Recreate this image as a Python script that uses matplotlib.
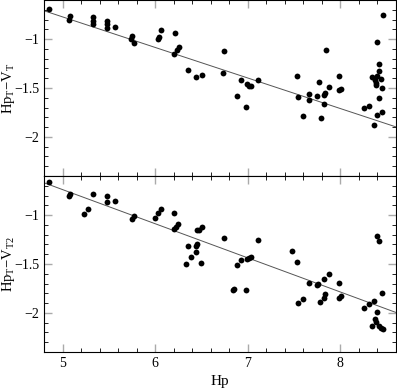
import matplotlib
matplotlib.use("Agg")
import matplotlib.pyplot as plt
import numpy as np
from matplotlib.ticker import MultipleLocator, FixedLocator

plt.rcParams['font.family'] = ['Liberation Serif', 'DejaVu Serif']
plt.rcParams['mathtext.fontset'] = 'custom'
plt.rcParams['mathtext.rm'] = 'Liberation Serif'
plt.rcParams['mathtext.it'] = 'Liberation Serif:italic'

# Top panel: Hp vs Hp_T - V_T
hp_top = [4.85, 5.086, 5.065, 5.327, 5.334, 5.334, 5.475, 5.475, 5.48, 5.567,
          5.748, 5.737, 5.77, 6.06, 6.04, 6.03, 6.21, 6.255, 6.236, 6.20,
          6.355, 6.438, 6.503, 6.737, 6.743, 6.923, 6.888, 6.977, 6.995, 7.013,
          7.039, 7.114, 7.535, 7.546, 7.596, 7.66, 7.664, 7.747, 7.765, 7.786,
          7.819, 7.822, 7.833, 7.84, 7.876, 7.988, 7.984, 8.01, 8.258, 8.307,
          8.34, 8.361, 8.369, 8.38, 8.39, 8.39, 8.387, 8.394, 8.412, 8.415,
          8.412, 8.434, 8.445, 8.445, 8.455]
col_top = [-0.69, -0.76, -0.806, -0.776, -0.813, -0.847, -0.81, -0.85, -0.89, -0.874,
           -0.966, -1.0, -1.04, -0.908, -0.98, -1.0, -0.939, -1.08, -1.116, -1.157,
           -1.317, -1.385, -1.367, -1.344, -1.119, -1.418, -1.579, -1.698, -1.459, -1.477,
           -1.477, -1.418, -1.378, -1.596, -1.79, -1.558, -1.627, -1.579, -1.436, -1.806,
           -1.667, -1.568, -1.548, -1.109, -1.49, -1.378, -1.52, -1.51, -1.708, -1.688,
           -1.388, -1.878, -1.422, -1.449, -1.776, -1.028, -1.47, -1.378, -1.259, -1.327,
           -1.599, -1.412, -1.5, -1.749, -0.749]
fit_top = [(4.8, -0.71), (8.6, -1.898)]

# Bottom panel: Hp vs Hp_T - V_T2
hp_bot = [4.852, 5.071, 5.086, 5.237, 5.276, 5.334, 5.478, 5.475, 5.567, 5.755,
          5.772, 6.0, 6.03, 6.064, 6.204, 6.204, 6.247, 6.23, 6.333, 6.355,
          6.392, 6.438, 6.446, 6.456, 6.452, 6.47, 6.506, 6.5, 6.74, 6.837,
          6.855, 6.888, 6.923, 6.977, 6.996, 7.013, 7.039, 7.114, 7.481, 7.535,
          7.546, 7.596, 7.66, 7.747, 7.762, 7.783, 7.819, 7.83, 7.822, 7.876,
          7.988, 7.984, 8.01, 8.258, 8.307, 8.337, 8.361, 8.376, 8.387, 8.39,
          8.394, 8.415, 8.415, 8.441, 8.458, 8.445]
col_bot = [-0.663, -0.806, -0.789, -0.986, -0.935, -0.789, -0.806, -0.863, -0.853, -1.044,
           -1.01, -1.027, -0.983, -0.942, -0.976, -1.146, -1.088, -1.118, -1.496, -1.316,
           -1.429, -1.373, -1.316, -1.156, -1.296, -1.156, -1.126, -1.486, -1.238, -1.761,
           -1.751, -1.506, -1.462, -1.765, -1.452, -1.439, -1.425, -1.255, -1.363, -1.483,
           -1.894, -1.853, -1.694, -1.714, -1.707, -1.884, -1.843, -1.809, -1.656, -1.605,
           -1.697, -1.847, -1.827, -1.955, -1.904, -2.133, -1.874, -2.064, -2.091, -1.996,
           -1.214, -1.265, -2.133, -2.156, -2.16, -1.796]
fit_bot = [(4.8, -0.669), (8.6, -1.996)]

xticks = [5, 6, 7, 8]
yticks = [-1, -1.5, -2]
ytick_labels = ['\u22121', '\u22121.5', '\u22122']

fig = plt.figure(figsize=(3.97, 3.89), dpi=100)
ax1 = fig.add_axes([44/397, 1-176/389, 352/397, 176/389])
ax2 = fig.add_axes([44/397, 1-352/389, 352/397, 176/389], sharex=ax1)

for ax, xs, ys, fit, lab in [(ax1, hp_top, col_top, fit_top, r'Hp$_{\rm T}$$-$V$_{\rm T}$'),
                             (ax2, hp_bot, col_bot, fit_bot, r'Hp$_{\rm T}$$-$V$_{\rm T2}$')]:
    ax.plot([p[0] for p in fit], [p[1] for p in fit], color='#555555', lw=0.7, zorder=1)
    ax.plot(xs, ys, 'o', color='black', ms=4.2, mec='none', zorder=2)
    ax.set_xlim(4.8, 8.6)
    ax.set_ylim(-2.4, -0.6)
    ax.xaxis.set_major_locator(FixedLocator(xticks))
    ax.xaxis.set_minor_locator(MultipleLocator(0.2))
    ax.yaxis.set_major_locator(FixedLocator(yticks))
    ax.yaxis.set_minor_locator(MultipleLocator(0.1))
    ax.set_yticklabels(ytick_labels)
    ax.tick_params(which='both', direction='in', top=True, right=True, labelsize=10)
    ax.tick_params(which='major', length=6, width=1.0, color='#aaaaaa')
    ax.tick_params(which='minor', length=3, width=0.7, color='#222222')
    ax.set_ylabel(lab, fontsize=10.5)
    ax.yaxis.set_label_coords(-0.078, 0.5)
    for s in ax.spines.values():
        s.set_linewidth(0.8)

plt.setp(ax1.get_xticklabels(), visible=False)
ax2.set_xlabel('Hp', fontsize=11, labelpad=4)

fig.savefig('out.png', dpi=100)
